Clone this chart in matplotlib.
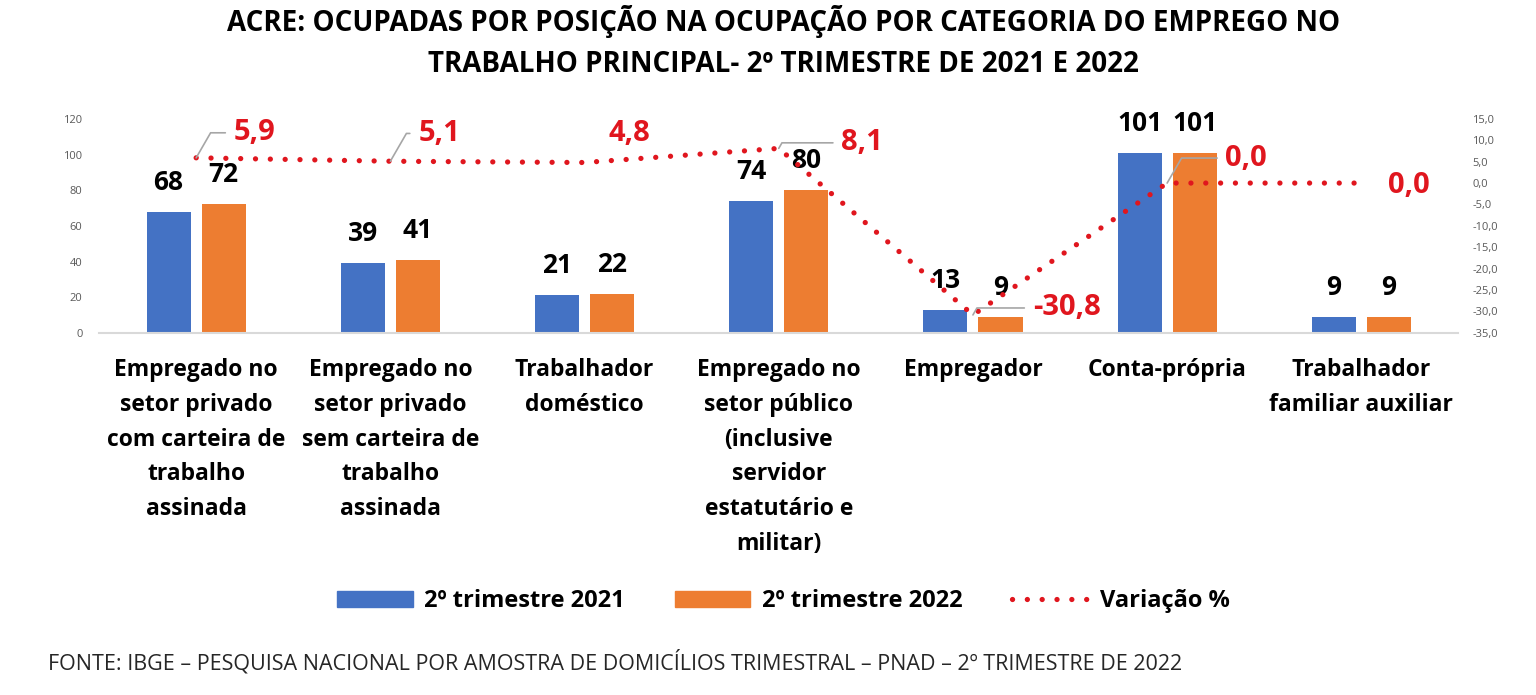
import numpy as np
import matplotlib.pyplot as plt
from matplotlib.patches import Patch
from matplotlib.lines import Line2D

plt.rcParams['font.family'] = ['Open Sans', 'DejaVu Sans']

# dados
categorias = ["Empregado no\nsetor privado\ncom carteira de\ntrabalho\nassinada",
              "Empregado no\nsetor privado\nsem carteira de\ntrabalho\nassinada",
              "Trabalhador\ndoméstico",
              "Empregado no\nsetor público\n(inclusive\nservidor\nestatutário e\nmilitar)",
              "Empregador",
              "Conta-própria",
              "Trabalhador\nfamiliar auxiliar"]
tri_2021 = [68, 39, 21, 74, 13, 101, 9]
tri_2022 = [72, 41, 22, 80, 9, 101, 9]
variacao = [5.9, 5.1, 4.8, 8.1, -30.8, 0.0, 0.0]

azul = '#4472C4'
laranja = '#ED7D31'
vermelho = '#E0161E'

fig = plt.figure(figsize=(15.36, 6.95), dpi=100)
ax = fig.add_axes([0.0645, 0.521, 0.885, 0.308])
ax2 = ax.twinx()

x = np.arange(len(categorias))
w = 0.227
off = 0.142
ax.bar(x - off, tri_2021, w, color=azul, zorder=2)
ax.bar(x + off, tri_2022, w, color=laranja, zorder=2)

for xi, v in zip(x, tri_2021):
    ax.text(xi - off, v + 9, str(v), ha='center', va='bottom', fontsize=19, fontweight='bold')
for xi, v in zip(x, tri_2022):
    ax.text(xi + off, v + 9, str(v), ha='center', va='bottom', fontsize=19, fontweight='bold')

ax.set_xlim(-0.5, len(categorias) - 0.5)
ax.set_ylim(0, 120)
ax.set_yticks(np.arange(0, 121, 20))
ax.tick_params(axis='y', length=0, labelsize=8, labelcolor='#595959', pad=12)
ax.set_xticks(x)
ax.set_xticklabels(categorias, fontsize=16.5, fontweight='bold', linespacing=1.6)
ax.tick_params(axis='x', length=0, pad=18)
for s in ['top', 'left', 'right']:
    ax.spines[s].set_visible(False)
ax.spines['bottom'].set_color('#D9D9D9')
ax.spines['bottom'].set_linewidth(1.5)

ax2.plot(x, variacao, color=vermelho, lw=3.8, linestyle=(0, (0.01, 2.8)),
         dash_capstyle='round', zorder=3)
ax2.set_ylim(-35, 15)
ax2.set_yticks(np.arange(-35, 16, 5))
ax2.set_yticklabels([f"{v:.1f}".replace('.', ',') for v in np.arange(-35, 16, 5)])
ax2.tick_params(axis='y', length=0, labelsize=8, labelcolor='#595959', pad=10)
for s in ax2.spines.values():
    s.set_visible(False)

# rótulos da variação (deslocamento em pontos)
desloc = [(27, 18), (20, 20), (17, 21), (45, 4), (43, 5), (42, 18), (19, -2)]
guia = [True, True, False, True, True, True, False]
for xi, v, (dx, dy), g in zip(x, variacao, desloc, guia):
    txt = f"{v:.1f}".replace('.', ',')
    props = None
    if g:
        props = dict(arrowstyle='-', color='#A6A6A6', lw=1.2, shrinkA=4, shrinkB=0,
                     connectionstyle='angle,angleA=0,angleB=60,rad=0', relpos=(0, 0.5))
    ax2.annotate(txt, xy=(xi, v), xytext=(dx, dy), textcoords='offset points',
                 ha='left', va='center', fontsize=21, fontweight='bold',
                 color=vermelho, arrowprops=props, zorder=4)

fig.text(0.51, 0.94, "ACRE: OCUPADAS POR POSIÇÃO NA OCUPAÇÃO POR CATEGORIA DO EMPREGO NO\n"
         "TRABALHO PRINCIPAL- 2º TRIMESTRE DE 2021 E 2022",
         ha='center', va='center', fontsize=20, fontweight='bold', linespacing=1.55)

handles = [Patch(color=azul, label='2º trimestre 2021'),
           Patch(color=laranja, label='2º trimestre 2022'),
           Line2D([0], [0], color=vermelho, lw=3.8, linestyle=(0, (0.01, 2.8)),
                  dash_capstyle='round', label='Variação %')]
fig.legend(handles=handles, loc='center', bbox_to_anchor=(0.51, 0.135), ncol=3,
           frameon=False, prop={'size': 17, 'weight': 'bold'}, handlelength=3.2,
           handleheight=0.7, columnspacing=2.1, handletextpad=0.5)

fig.text(0.031, 0.047, "FONTE: IBGE – PESQUISA NACIONAL POR AMOSTRA DE DOMICÍLIOS TRIMESTRAL – PNAD – 2º TRIMESTRE DE 2022",
         ha='left', va='center', fontsize=15.5, color='#262626')

fig.savefig('out.png', dpi=100, facecolor='white')
